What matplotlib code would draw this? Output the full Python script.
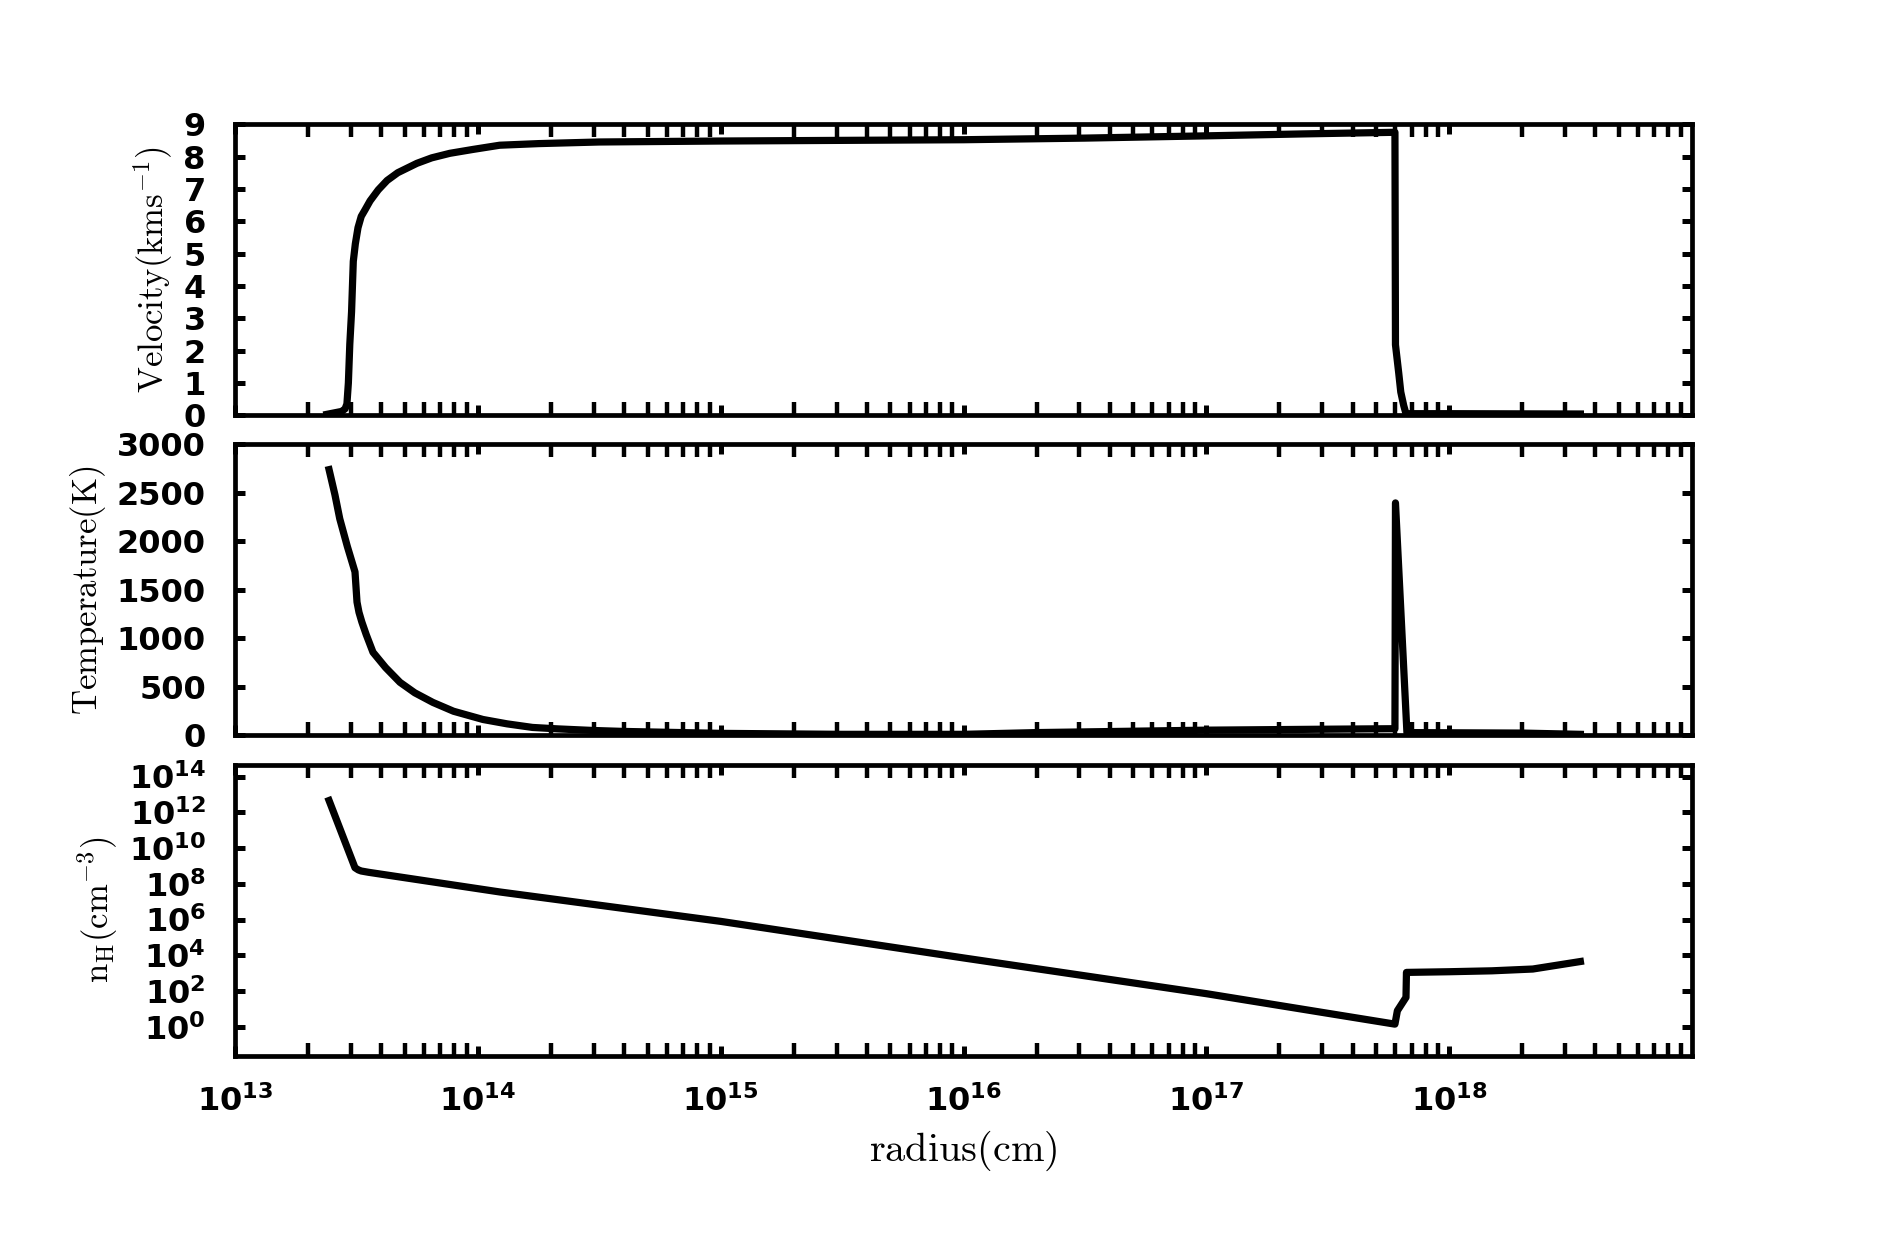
import matplotlib
matplotlib.use('Agg')
import matplotlib.pyplot as plt
from matplotlib.ticker import FixedLocator, LogLocator, NullLocator, LogFormatterSciNotation, NullFormatter

# ---------------- data ----------------
vel_radius = [2.39e13, 2.75e13, 2.84e13, 2.89e13, 2.93e13, 2.97e13, 3.02e13, 3.07e13,
              3.13e13, 3.21e13, 3.31e13, 3.43e13, 3.60e13, 3.89e13, 4.23e13, 4.68e13,
              5.61e13, 6.46e13, 7.67e13, 9.55e13, 1.23e14, 1.78e14, 3.16e14, 1.0e15,
              3.16e15, 1.0e16, 3.16e16, 1.0e17, 2.51e17, 5.98e17, 6.01e17, 6.20e17,
              6.32e17, 6.50e17, 6.64e17, 1.0e18, 3.47e18]
velocity = [0.03, 0.12, 0.2, 0.35, 1.0, 2.2, 3.2, 4.76,
            5.3, 5.8, 6.15, 6.35, 6.63, 6.97, 7.26, 7.5,
            7.79, 7.96, 8.1, 8.22, 8.35, 8.4, 8.45, 8.48,
            8.5, 8.52, 8.57, 8.64, 8.70, 8.75, 2.18, 1.3,
            0.72, 0.3, 0.05, 0.05, 0.04]

temp_radius = [2.44e13, 2.58e13, 2.70e13, 2.90e13, 3.12e13, 3.18e13, 3.24e13, 3.33e13,
               3.47e13, 3.70e13, 4.17e13, 4.78e13, 5.50e13, 6.53e13, 7.94e13, 1.05e14,
               1.32e14, 1.68e14, 2.14e14, 2.97e14, 3.98e14, 1.0e15, 3.16e15, 1.0e16,
               2.0e16, 1.0e17, 3.16e17, 5.98e17, 6.01e17, 6.70e17, 1.0e18, 2.0e18, 3.47e18]
temperature = [2740, 2480, 2234, 1950, 1686, 1375, 1270, 1169,
               1040, 858, 700, 548, 440, 341, 250, 165,
               120, 83, 68, 52, 42, 22, 12, 12,
               30, 55, 65, 70, 2397, 30, 28, 25, 12]

dens_radius = [2.44e13, 3.12e13, 3.22e13, 3.31e13, 3.55e13, 1.23e14, 1.0e15, 1.0e16,
               1.0e17, 5.98e17, 6.12e17, 6.64e17, 6.67e17, 1.0e18, 1.5e18, 2.21e18, 3.47e18]
density = [4.57e12, 7.9e8, 6.0e8, 5.2e8, 4.4e8, 3.5e7, 7.9e5, 7.1e3,
           71, 1.4, 7.9, 44, 1100, 1200, 1350, 1700, 4470]

x_major = [1e13, 1e14, 1e15, 1e16, 1e17, 1e18]
vel_ticks = [0, 1, 2, 3, 4, 5, 6, 7, 8, 9]
temp_ticks = [0, 500, 1000, 1500, 2000, 2500, 3000]
dens_ticks = [1e0, 1e2, 1e4, 1e6, 1e8, 1e10, 1e12, 1e14]

labels = [r'$\mathrm{Velocity(kms^{-1})}$', r'$\mathrm{Temperature(K)}$', r'$\mathrm{n_H(cm^{-3})}$']
xlabel = r'$\mathrm{radius(cm)}$'

# ---------------- style ----------------
plt.rcParams['mathtext.fontset'] = 'cm'
plt.rcParams['font.family'] = 'DejaVu Sans'
plt.rcParams['font.weight'] = 'bold'

fig, axes = plt.subplots(3, 1, figsize=(18.8, 12.42), dpi=100, sharex=True)
fig.subplots_adjust(left=0.125, right=0.9, top=0.9, bottom=0.15, hspace=0.1)

lw = 5.2
axes[0].plot(vel_radius, velocity, color='black', lw=lw, solid_joinstyle='round')
axes[1].plot(temp_radius, temperature, color='black', lw=lw, solid_joinstyle='round')
axes[2].plot(dens_radius, density, color='black', lw=lw, solid_joinstyle='round')

axes[0].set_ylim(0, 9)
axes[0].yaxis.set_major_locator(FixedLocator(vel_ticks))
axes[1].set_ylim(0, 3000)
axes[1].yaxis.set_major_locator(FixedLocator(temp_ticks))
axes[2].set_yscale('log')
axes[2].set_ylim(10 ** -1.62, 10 ** 14.67)
axes[2].yaxis.set_major_locator(FixedLocator(dens_ticks))
axes[2].yaxis.set_major_formatter(LogFormatterSciNotation())
axes[2].yaxis.set_minor_locator(NullLocator())

for ax, lab in zip(axes, labels):
    ax.set_xscale('log')
    ax.set_xlim(1e13, 1e19)
    ax.xaxis.set_major_locator(FixedLocator(x_major))
    ax.xaxis.set_minor_locator(LogLocator(base=10, subs=range(2, 10), numticks=30))
    ax.xaxis.set_minor_formatter(NullFormatter())
    for s in ax.spines.values():
        s.set_linewidth(3.4)
    ax.tick_params(which='major', direction='in', top=True, right=True,
                   length=7, width=3.6, labelsize=23, pad=21)
    ax.tick_params(which='minor', direction='in', top=True, right=True,
                   length=9.5, width=3.2)
    ax.set_ylabel(lab, fontsize=25, labelpad=6)

axes[2].xaxis.set_major_formatter(LogFormatterSciNotation())
axes[2].set_xlabel(xlabel, fontsize=29, labelpad=8)

fig.savefig('out.png', dpi=100)
